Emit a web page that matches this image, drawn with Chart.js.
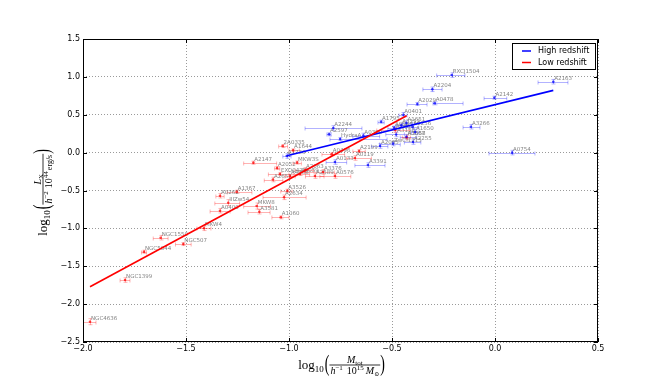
<!DOCTYPE html>
<html>
<head>
<meta charset="utf-8">
<title>Lx - M relation</title>
<script src="https://cdn.jsdelivr.net/npm/chart.js@4.4.0/dist/chart.umd.min.js"></script>
<style>
  html, body { margin: 0; padding: 0; background: #fff; }
</style>
</head>
<body>
<canvas id="c" width="664" height="391"></canvas>
<script>
// high redshift clusters: log10 M, log10 L, mass error bounds, lum error
const hiNames = ['RXCJ1504','A2163','A2204','A2142','A2029','A0478','A0401','A3266','A0754','A2244','A2597','A1795','A0399','HydraA','A1650','A2065','ZwCl1215','A2255','A3391','A0133','A1736','A0085','A3112','A1651','A2256','A3158','A3667'];
const hiM   = [-0.210, 0.283, -0.304, -0.003, -0.377, -0.293, -0.445, -0.117, 0.083, -0.785, -0.806, -0.553, -0.639, -0.752, -0.388, -0.558, -0.495, -0.398, -0.617, -0.777, -1.011, -0.490, -0.455, -0.430, -0.400, -0.480, -0.430];
const hiL   = [1.024, 0.936, 0.836, 0.725, 0.642, 0.651, 0.500, 0.342, 0.000, 0.325, 0.242, 0.408, 0.226, 0.180, 0.272, 0.087, 0.120, 0.140, -0.164, -0.124, -0.045, 0.330, 0.360, 0.390, 0.340, 0.240, 0.210];
const hiMlo = [-0.283, 0.209, -0.350, -0.053, -0.427, -0.301, -0.466, -0.155, -0.029, -0.922, -0.816, -0.568, -0.690, -0.801, -0.405, -0.600, -0.560, -0.440, -0.680, -0.820, -1.030, -0.520, -0.480, -0.450, -0.430, -0.530, -0.460];
const hiMhi = [-0.146, 0.354, -0.257, 0.057, -0.330, -0.155, -0.427, -0.073, 0.194, -0.646, -0.796, -0.538, -0.560, -0.524, -0.370, -0.520, -0.460, -0.360, -0.534, -0.720, -0.990, -0.460, -0.430, -0.400, -0.370, -0.440, -0.380];
const hiLerr = [0.03, 0.03, 0.03, 0.02, 0.02, 0.02, 0.03, 0.03, 0.03, 0.03, 0.02, 0.02, 0.03, 0.02, 0.03, 0.03, 0.03, 0.03, 0.03, 0.03, 0.03, 0.02, 0.02, 0.03, 0.03, 0.03, 0.03];

// low redshift clusters
const loNames = ['NGC4636','NGC1399','NGC5044','NGC507','NGC1550','MKW4','A1060','A3581','MKW8','A0400','IIIZw54','A0262','A1367','A3526','A2634','2A0335','A1644','A2147','MKW3S','A2052','A2063','A3376','A2589','A0576','EXO0422','A4038','A2657','A4059','A2199','A0496','A0119','A1656','A3558'];
const loM   = [-1.966, -1.796, -1.704, -1.513, -1.623, -1.413, -1.040, -1.144, -1.157, -1.335, -1.295, -1.335, -1.254, -1.008, -1.024, -1.031, -0.980, -1.173, -0.961, -1.058, -0.922, -0.835, -0.874, -0.777, -1.044, -0.995, -1.078, -0.947, -0.660, -0.793, -0.680, -0.485, -0.429];
const loL   = [-2.232, -1.682, -1.308, -1.207, -1.123, -0.999, -0.854, -0.780, -0.705, -0.767, -0.661, -0.569, -0.516, -0.503, -0.590, 0.087, 0.030, -0.133, -0.131, -0.203, -0.229, -0.255, -0.309, -0.309, -0.282, -0.309, -0.355, -0.282, 0.020, -0.020, -0.071, 0.298, 0.200];
const loMlo = [-1.999, -1.820, -1.716, -1.551, -1.659, -1.447, -1.083, -1.199, -1.220, -1.383, -1.360, -1.355, -1.300, -1.040, -1.126, -1.050, -1.000, -1.220, -0.980, -1.070, -0.970, -0.920, -0.920, -0.850, -1.100, -1.020, -1.120, -0.980, -0.690, -0.840, -0.720, -0.574, -0.450];
const loMhi = [-1.937, -1.772, -1.692, -1.475, -1.587, -1.379, -1.000, -1.092, -1.090, -1.286, -1.240, -1.315, -1.180, -0.985, -0.917, -1.007, -0.950, -1.060, -0.940, -1.045, -0.880, -0.780, -0.830, -0.700, -1.000, -0.970, -1.030, -0.900, -0.630, -0.730, -0.600, -0.413, -0.410];
const loLerr = [0.04, 0.03, 0.02, 0.02, 0.03, 0.03, 0.02, 0.03, 0.04, 0.03, 0.04, 0.03, 0.02, 0.02, 0.03, 0.02, 0.02, 0.02, 0.02, 0.02, 0.03, 0.03, 0.03, 0.03, 0.02, 0.02, 0.03, 0.02, 0.02, 0.02, 0.03, 0.03, 0.03];

// fitted relations (end points)
const hiFitM = [-1.011, 0.283];
const hiFitL = [-0.041, 0.822];
const loFitM = [-1.966, -0.429];
const loFitL = [-1.770, 0.487];

const legendNames = ['High redshift', 'Low redshift'];
const BLUE = '#0000ff', RED = '#ff0000';

const toPts = (m, l) => m.map((v, i) => ({ x: v, y: l[i] }));
const fmt = v => (v < 0 ? '\u2212' : '') + Math.abs(v).toFixed(1);

const SERIF = '"Liberation Serif", "DejaVu Serif", serif';
const f = (sz, it) => (it ? 'italic ' : '') + sz + 'px ' + SERIF;

function runW(ctx, runs) {
  let w = 0;
  for (const r of runs) { ctx.font = r.f; w += ctx.measureText(r.t).width + (r.sp || 0); }
  return w;
}
function runDraw(ctx, runs, x, y) {
  for (const r of runs) {
    ctx.font = r.f;
    ctx.fillText(r.t, x, y + (r.dy || 0));
    x += ctx.measureText(r.t).width + (r.sp || 0);
  }
}
function paren(ctx, ch, x) {
  ctx.save();
  ctx.font = '23px ' + SERIF;
  ctx.translate(x, 0);
  ctx.scale(0.6, 1);
  ctx.fillText(ch, 0, 6);
  ctx.restore();
}
function mathTitle(ctx, cx, cy, rot, num, den) {
  ctx.save();
  ctx.translate(cx, cy);
  ctx.rotate(rot);
  ctx.fillStyle = '#000';
  ctx.textBaseline = 'alphabetic';
  ctx.textAlign = 'left';
  const head = [{ t: 'log', f: f(13) }, { t: '10', f: f(9), dy: 3 }];
  const wh = runW(ctx, head), wn = runW(ctx, num), wd = runW(ctx, den);
  const wf = Math.max(wn, wd) + 2;
  ctx.font = '23px ' + SERIF;
  const pw = ctx.measureText('(').width * 0.6;
  let x = -(wh + 1 + pw + wf + pw) / 2;
  runDraw(ctx, head, x, 4);
  x += wh + 1;
  paren(ctx, '(', x);
  x += pw;
  runDraw(ctx, num, x + (wf - wn) / 2, -2);
  ctx.fillRect(x, -0.4, wf, 0.8);
  runDraw(ctx, den, x + (wf - wd) / 2, 9);
  x += wf;
  paren(ctx, ')', x);
  ctx.restore();
}

function errBars(ctx, sx, sy, m, l, lo, hi, le, col) {
  ctx.strokeStyle = col;
  ctx.lineWidth = 1;
  ctx.beginPath();
  for (let i = 0; i < m.length; i++) {
    const px = Math.round(sx.getPixelForValue(m[i])) + 0.5;
    const py = Math.round(sy.getPixelForValue(l[i])) + 0.5;
    const a = sx.getPixelForValue(lo[i]), b = sx.getPixelForValue(hi[i]);
    const t = sy.getPixelForValue(l[i] + le[i]), u = sy.getPixelForValue(l[i] - le[i]);
    ctx.moveTo(a, py); ctx.lineTo(b, py);
    ctx.moveTo(a, py - 2); ctx.lineTo(a, py + 2);
    ctx.moveTo(b, py - 2); ctx.lineTo(b, py + 2);
    ctx.moveTo(px, t); ctx.lineTo(px, u);
    ctx.moveTo(px - 2, t); ctx.lineTo(px + 2, t);
    ctx.moveTo(px - 2, u); ctx.lineTo(px + 2, u);
  }
  ctx.stroke();
}
function names(ctx, sx, sy, m, l, n) {
  ctx.font = '5.5px "DejaVu Sans"';
  ctx.fillStyle = '#858585';
  ctx.textAlign = 'left';
  ctx.textBaseline = 'alphabetic';
  for (let i = 0; i < m.length; i++) {
    ctx.fillText(n[i], sx.getPixelForValue(m[i]) + 1, sy.getPixelForValue(l[i]) - 2);
  }
}

const extras = {
  id: 'extras',
  beforeDatasetsDraw(chart) {
    const { ctx, chartArea: ca, scales: { x, y } } = chart;
    ctx.save();
    ctx.beginPath(); ctx.rect(ca.left, ca.top, ca.width, ca.height); ctx.clip();
    errBars(ctx, x, y, hiM, hiL, hiMlo, hiMhi, hiLerr, 'rgba(0,0,255,0.3)');
    errBars(ctx, x, y, loM, loL, loMlo, loMhi, loLerr, 'rgba(255,0,0,0.3)');
    names(ctx, x, y, hiM, hiL, hiNames);
    names(ctx, x, y, loM, loL, loNames);
    ctx.restore();
  },
  afterDraw(chart) {
    const { ctx, chartArea: ca, scales: { x, y } } = chart;
    ctx.save();
    // frame and inward ticks
    ctx.strokeStyle = '#000';
    ctx.lineWidth = 1;
    ctx.strokeRect(ca.left + 0.5, ca.top + 0.5, ca.width - 1, ca.height - 1);
    ctx.beginPath();
    x.ticks.forEach(t => {
      const p = Math.round(x.getPixelForValue(t.value)) + 0.5;
      ctx.moveTo(p, ca.bottom); ctx.lineTo(p, ca.bottom - 4);
      ctx.moveTo(p, ca.top); ctx.lineTo(p, ca.top + 4);
    });
    y.ticks.forEach(t => {
      const p = Math.round(y.getPixelForValue(t.value)) + 0.5;
      ctx.moveTo(ca.left, p); ctx.lineTo(ca.left + 4, p);
      ctx.moveTo(ca.right, p); ctx.lineTo(ca.right - 4, p);
    });
    ctx.stroke();

    // legend
    const lx = ca.right - 86, ly = ca.top + 4, lw = 83, lh = 26;
    ctx.fillStyle = '#fff';
    ctx.fillRect(lx, ly, lw, lh);
    ctx.strokeRect(lx + 0.5, ly + 0.5, lw, lh);
    ctx.font = '8px "DejaVu Sans"';
    ctx.textBaseline = 'middle';
    ctx.textAlign = 'left';
    [BLUE, RED].forEach((c, i) => {
      const yy = ly + 8 + i * 11.5;
      ctx.strokeStyle = c; ctx.lineWidth = 1.5;
      ctx.beginPath(); ctx.moveTo(lx + 10, yy); ctx.lineTo(lx + 19, yy); ctx.stroke();
      ctx.fillStyle = '#000';
      ctx.fillText(legendNames[i], lx + 26, yy);
    });

    // axis titles
    mathTitle(ctx, (ca.left + ca.right) / 2 + 1, 365, 0,
      [{ t: 'M', f: f(10, true) }, { t: 'tot', f: f(7), dy: 2 }],
      [{ t: 'h', f: f(10, true) }, { t: '\u22121', f: f(7), dy: -4, sp: 4 },
       { t: '10', f: f(10) }, { t: '15', f: f(7), dy: -4, sp: 2 },
       { t: 'M', f: f(10, true) }, { t: '\u2299', f: f(6), dy: 2 }]);
    mathTitle(ctx, 43, (ca.top + ca.bottom) / 2 + 2, -Math.PI / 2,
      [{ t: 'L', f: f(10, true) }, { t: 'X', f: f(7), dy: 2 }],
      [{ t: 'h', f: f(10, true) }, { t: '\u22122', f: f(7), dy: -4, sp: 3 },
       { t: '10', f: f(10) }, { t: '44', f: f(7), dy: -4, sp: 1 },
       { t: 'erg/s', f: f(8) }]);
    ctx.restore();
  }
};

const tickFont = { family: 'DejaVu Sans', size: 8 };
const gridOpts = { color: '#9a9a9a', lineWidth: 1, drawTicks: false };

new Chart(document.getElementById('c'), {
  type: 'scatter',
  data: {
    datasets: [
      { type: 'line', label: legendNames[1], data: toPts(loFitM, loFitL), borderColor: RED, borderWidth: 1.6, pointRadius: 0, order: 0 },
      { type: 'line', label: legendNames[0], data: toPts(hiFitM, hiFitL), borderColor: BLUE, borderWidth: 1.6, pointRadius: 0, order: 1 },
      { data: toPts(hiM, hiL), pointRadius: 1.3, backgroundColor: 'rgba(0,0,255,0.75)', borderWidth: 0, order: 2 },
      { data: toPts(loM, loL), pointRadius: 1.3, backgroundColor: 'rgba(255,0,0,0.75)', borderWidth: 0, order: 3 }
    ]
  },
  options: {
    responsive: false,
    animation: false,
    events: [],
    layout: { padding: { top: 39, right: 66, left: 0, bottom: 0 } },
    plugins: { legend: { display: false }, tooltip: { enabled: false } },
    scales: {
      x: {
        type: 'linear', min: -2, max: 0.5,
        afterFit: s => { s.height = 49; },
        ticks: { stepSize: 0.5, color: '#000', font: tickFont, padding: 2, maxRotation: 0, callback: fmt },
        grid: gridOpts,
        border: { display: false, dash: [1, 2] }
      },
      y: {
        type: 'linear', min: -2.5, max: 1.5,
        afterFit: s => { s.width = 83; },
        ticks: { stepSize: 0.5, color: '#000', font: tickFont, padding: 3, callback: fmt },
        grid: gridOpts,
        border: { display: false, dash: [1, 2] }
      }
    }
  },
  plugins: [extras]
});
</script>
</body>
</html>
